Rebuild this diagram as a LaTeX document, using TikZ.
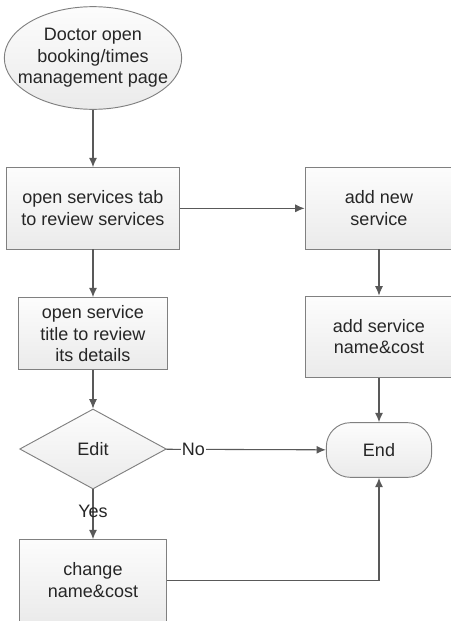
\documentclass[tikz,border=0pt]{standalone}
\usepackage{fontspec}
\setmainfont{Liberation Sans}
\usepackage{xcolor}
\usetikzlibrary{shapes.geometric,positioning,arrows.meta}
\tikzstyle{arrow} = [-{Latex[length=7pt, width=6pt]}, draw=black!65, line width=0.8pt]
\tikzstyle{boxfill} = [draw=black!50, line width=0.7pt, top color=gray!2, bottom color=gray!16, text=black!85, align=center]
\tikzstyle{process} = [boxfill, rectangle, minimum width=111pt, minimum height=61pt, inner sep=0pt]
\tikzstyle{decision} = [boxfill, diamond, minimum width=110pt, minimum height=60pt, inner sep=0pt]
\tikzstyle{startstop} = [boxfill, ellipse, minimum width=133pt, minimum height=77pt, inner xsep=-10pt, inner ysep=0pt]
\tikzstyle{terminal} = [boxfill, rectangle, rounded corners=18pt, minimum width=79pt, minimum height=41pt]

\begin{document}
\begin{tikzpicture}[x=0.75pt, y=-0.75pt, node distance=94pt, every node/.style={font=\fontsize{13.5}{16.2}\selectfont}]
		\useasboundingbox (0,0) rectangle (450,621);
		\node (start) [startstop] at (93,58) {Doctor open\\booking/times\\management page};
		\node (tab) [process, below of=start, yshift=-18.75pt, minimum width=130pt] {open services tab\\to review services};
		\node (title) [process, below of=tab, minimum width=112pt, minimum height=54pt] {open service\\title to review\\its details};
		\node (edit) [decision, below of=title, yshift=7.5pt] {Edit};
		\node (change) [process, below of=edit, yshift=-4.5pt, minimum width=110pt] {change\\name\&cost};
		\node (newserv) [process, right of=tab, xshift=120.5pt] {add new\\service};
		\node (namecost) [process, below of=newserv, yshift=-2.25pt] {add service\\name\&cost};
		\node (end) [terminal, below of=namecost, yshift=9pt] {End};

		\draw [arrow] (start) -- (tab);
		\draw [arrow] (tab) -- (newserv);
		\draw [arrow] (tab) -- (title);
		\draw [arrow] (title) -- (edit);
		\draw [arrow] (edit) -- node [pos=0.17, fill=white, inner sep=1pt, text=black!85] {No} (end);
		\draw [arrow] (edit) -- node [pos=0.45, text=black!85] {Yes} (change);
		\draw [arrow] (newserv) -- (namecost);
		\draw [arrow] (namecost) -- (end);
		\draw [arrow] (change) -| (end);
	\end{tikzpicture}
\end{document}
